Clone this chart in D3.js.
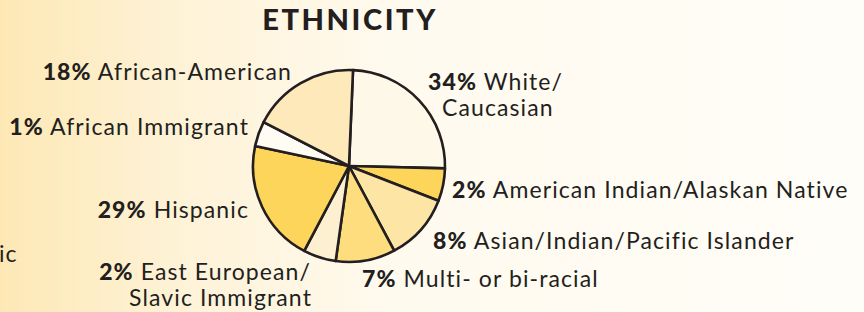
<!DOCTYPE html>
<html>
<head>
<meta charset="utf-8">
<script src="https://cdn.jsdelivr.net/npm/d3@7"></script>
<style>
  html, body { margin: 0; padding: 0; background: #fffdf8; }
  svg { display: block; font-family: Lato, "Open Sans", sans-serif; }
</style>
</head>
<body>
<svg id="chart" width="864" height="312"></svg>
<script>
// Categories, in clockwise order from the top of the pie
const categories = [
  'White/Caucasian',
  'American Indian/Alaskan Native',
  'Asian/Indian/Pacific Islander',
  'Multi- or bi-racial',
  'East European/Slavic Immigrant',
  'Hispanic',
  'African Immigrant',
  'African-American',
];
// Percentages printed on the labels
const labelPercents = [34, 2, 8, 7, 2, 29, 1, 18];
// Slice shares as drawn in the picture (the source pie is not to scale)
const sliceShares = [24.7, 5.5, 11.3, 10.0, 5.5, 20.6, 4.2, 18.1];
const sliceColors = ['#fef8e9', '#fdd55a', '#fde5a6', '#fedd7e', '#fdf0d0', '#fdd55a', '#fffcf4', '#fde9b9'];

// Label text lines (percent goes in front of the first line)
const labelLines = [
  ['White/', 'Caucasian'],
  ['American Indian/Alaskan Native'],
  ['Asian/Indian/Pacific Islander'],
  ['Multi- or bi-racial'],
  ['East European/', 'Slavic Immigrant'],
  ['Hispanic'],
  ['African Immigrant'],
  ['African-American'],
];

// Layout: where each label sits
const labelLayout = [
  {x: 428, y: 90, anchor: 'start', dx2: 14},
  {x: 452, y: 198, anchor: 'start'},
  {x: 433, y: 249, anchor: 'start'},
  {x: 362, y: 287, anchor: 'start'},
  {x: 311, y: 280, anchor: 'end', dx2: 1},
  {x: 249, y: 218, anchor: 'end'},
  {x: 249, y: 135, anchor: 'end'},
  {x: 292, y: 80, anchor: 'end'},
];

const width = 864, height = 312;
const cx = 349, cy = 166, radius = 96;
const startDeg = 2.4;
const ink = '#231f20';
const labelSize = 23, labelSpacing = 1.1;

const svg = d3.select('#chart');

// background wash fading from the left
const defs = svg.append('defs');
const grad = defs.append('linearGradient')
  .attr('id', 'bg')
  .attr('x1', 0).attr('x2', 1).attr('y1', 0).attr('y2', 0);
grad.append('stop').attr('offset', '0%').attr('stop-color', '#fde8b5');
grad.append('stop').attr('offset', '20%').attr('stop-color', '#fef2d6');
grad.append('stop').attr('offset', '45%').attr('stop-color', '#fffaee');
grad.append('stop').attr('offset', '100%').attr('stop-color', '#fffdf8');
svg.append('rect')
  .attr('width', width).attr('height', height)
  .attr('fill', 'url(#bg)');

svg.append('text')
  .attr('x', cx + 1)
  .attr('y', 30)
  .attr('text-anchor', 'middle')
  .attr('font-size', 29)
  .attr('font-weight', 900)
  .attr('letter-spacing', 2.6)
  .attr('fill', ink)
  .text('ETHNICITY');

const start = startDeg * Math.PI / 180;
const pie = d3.pie()
  .sort(null)
  .value(d => d)
  .startAngle(start)
  .endAngle(start + 2 * Math.PI);
const arc = d3.arc().innerRadius(0).outerRadius(radius);

const g = svg.append('g').attr('transform', `translate(${cx},${cy})`);
g.selectAll('path.slice')
  .data(pie(sliceShares))
  .join('path')
  .attr('class', 'slice')
  .attr('d', arc)
  .attr('fill', (d, i) => sliceColors[i])
  .attr('stroke', ink)
  .attr('stroke-width', 2.6)
  .attr('stroke-linejoin', 'round');

// labels
const labels = svg.selectAll('text.label')
  .data(categories)
  .join('text')
  .attr('class', 'label')
  .attr('font-size', labelSize)
  .attr('letter-spacing', labelSpacing)
  .attr('fill', ink)
  .attr('text-anchor', (d, i) => labelLayout[i].anchor);

labels.each(function (d, i) {
  const t = d3.select(this);
  const L = labelLayout[i];
  const lines = labelLines[i];
  const first = t.append('tspan').attr('x', L.x).attr('y', L.y);
  first.append('tspan').attr('font-weight', 900).text(labelPercents[i] + '%');
  first.append('tspan').text(' ' + lines[0]);
  if (lines.length > 1) {
    t.append('tspan')
      .attr('x', L.x + (L.dx2 || 0))
      .attr('y', L.y + 26)
      .text(lines[1]);
  }
});

// fragment of a neighbouring label cut off at the left edge
svg.append('text')
  .attr('x', -1)
  .attr('y', 262)
  .attr('font-size', labelSize)
  .attr('letter-spacing', labelSpacing)
  .attr('fill', ink)
  .text('ic');
</script>
</body>
</html>
